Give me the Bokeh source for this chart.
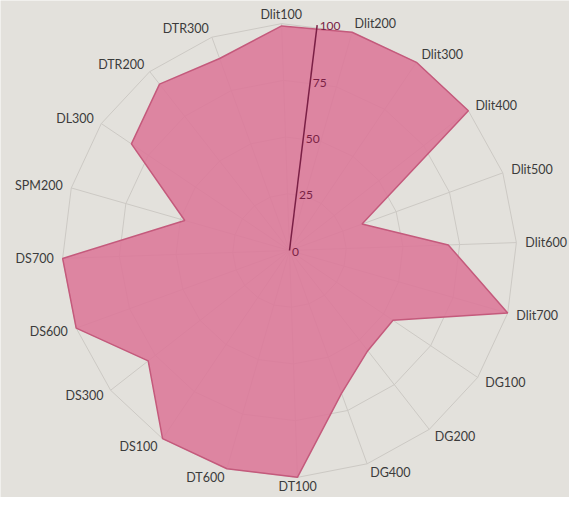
import numpy as np
from bokeh.plotting import figure
from bokeh.models import Range1d, ColumnDataSource
from bokeh.embed import file_html
from bokeh.resources import INLINE
from bokeh.core.properties import value, field

# ---- data ----
categories = ["Dlit100", "Dlit200", "Dlit300", "Dlit400", "Dlit500", "Dlit600", "Dlit700",
              "DG100", "DG200", "DG400", "DT100", "DT600", "DS100", "DS300", "DS600",
              "DS700", "SPM200", "DL300", "DTR200", "DTR300"]
scores = [99, 100, 100, 100, 34, 70, 100, 55, 56, 67, 100, 100, 100, 79, 100, 100, 48, 84, 93, 90]
ticks = [0, 25, 50, 75, 100]
tick_labels = ["0", "25", "50", "75", "100"]

# ---- layout / style ----
W, H = 569, 497
CX, CY = 289, 250          # centre of the radar in px (from top-left)
RPX = 227.0                # px for value 100
PX = 100.0 / RPX           # value units per pixel
ROT = -2.0                 # degrees
BG = "#e3e1dc"
GRID = "#ccc9c4"
FILL = "#dc7898"
EDGE = "#c45a7c"
AXIS = "#7a1f45"
LABEL = "#3b3b3b"
FONT = "Lato"

n = len(categories)
theta = np.deg2rad(ROT + np.arange(n) * 360.0 / n)
sx, cy_ = np.sin(theta), np.cos(theta)

p = figure(width=W, height=H, output_backend="svg", toolbar_location=None,
           x_range=Range1d(-CX * PX, (W - CX) * PX),
           y_range=Range1d(-(H - CY) * PX, CY * PX),
           min_border=0, outline_line_color=None,
           background_fill_color=BG, border_fill_color=BG)
p.axis.visible = False
p.grid.visible = False

# grid rings (polygons) and spokes
rmax = ticks[-1]
ring_xs, ring_ys = [], []
for t in ticks[1:]:
    ring_xs.append(list(np.append(t * sx, t * sx[0])))
    ring_ys.append(list(np.append(t * cy_, t * cy_[0])))
p.multi_line(ring_xs, ring_ys, line_color=GRID, line_width=1)
p.segment(x0=np.zeros(n), y0=np.zeros(n), x1=rmax * sx, y1=rmax * cy_,
          line_color=GRID, line_width=1)

# data polygon
vals = np.array(scores, dtype=float)
p.patch(list(vals * sx), list(vals * cy_), fill_color=FILL, fill_alpha=0.88,
        line_color=EDGE, line_width=1.5)

# radial axis (half-way between first and second category)
ang = np.deg2rad(ROT + 180.0 / n)
p.line([0, rmax * np.sin(ang)], [0, rmax * np.cos(ang)], line_color=AXIS, line_width=1.5)
tv = np.array(ticks, dtype=float)
p.text(x=list(tv * np.sin(ang) + 2.5 * PX), y=list(tv * np.cos(ang) - 1.0 * PX), text=tick_labels,
       text_font=value(FONT), text_font_size="12px", text_color=AXIS,
       text_align="left", text_baseline="middle")

# category labels: anchored on a circle, aligned away from the centre
r0 = 236.0
aligns = ["center" if abs(s) < 0.1 else ("left" if s > 0 else "right") for s in sx]
src = ColumnDataSource(dict(x=list(r0 * sx * PX), y=list(r0 * cy_ * PX),
                            text=categories, align=aligns))
p.text(x="x", y="y", text="text", source=src, text_font=value(FONT),
       text_font_size="12.5px", text_color=LABEL, text_align=field("align"),
       text_baseline="middle")

open("out.html", "w").write(file_html(p, INLINE))
